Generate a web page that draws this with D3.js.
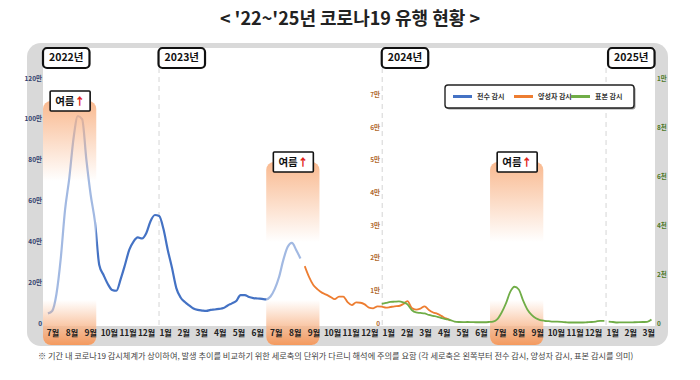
<!DOCTYPE html>
<html><head><meta charset="utf-8">
<script src="https://cdn.jsdelivr.net/npm/d3@7"></script>
<style>
body{margin:0;background:#fff;}
svg{display:block;font-family:"Noto Sans CJK KR","Noto Sans",sans-serif;}
</style>
</head><body>
<svg id="c" width="700" height="380"></svg>
<script>
// ---------- DATA ----------
const titleText = "< '22~'25년 코로나19 유행 현황 >";
const footnoteText = "※ 기간 내 코로나19 감시체계가 상이하여, 발생 추이를 비교하기 위한 세로축의 단위가 다르니 해석에 주의를 요함 (각 세로축은 왼쪽부터 전수 감시, 양성자 감시, 표본 감시를 의미)";
const monthLabels = ["7월","8월","9월","10월","11월","12월",
  "1월","2월","3월","4월","5월","6월","7월","8월","9월","10월","11월","12월",
  "1월","2월","3월","4월","5월","6월","7월","8월","9월","10월","11월","12월",
  "1월","2월","3월"];
const yearLabels = ["2022년","2023년","2024년","2025년"];
const yearStarts = ["2022-07-01","2023-01-01","2024-01-01","2025-01-01"];
const seriesNames = ["전수 감시","양성자 감시","표본 감시"];
const summerLabel = "여름";
const summerArrow = "↑";
const summerStarts = ["2022-07-01","2023-07-01","2024-07-01"];
const summerEnds = ["2022-10-01","2023-10-01","2024-10-01"];
const leftTicks = [0,200000,400000,600000,800000,1000000,1200000];
const midTicks = [0,10000,20000,30000,40000,50000,60000,70000];
const rightTicks = [0,2000,4000,6000,8000,10000];
const firstWeek = "2022-07-09";   // weekly points, week index 0
// 전수 감시 (weekly, week 0..59)
const blueValues = [47000,59000,142000,315000,553000,710000,906000,1014000,999000,798000,
  627000,495000,284000,235000,191000,162000,158000,215000,284000,358000,
  399000,419000,414000,441000,500000,529000,524000,460000,358000,269000,
  171000,125000,103000,86000,71000,64000,61000,59000,64000,66000,
  69000,73000,86000,96000,108000,137000,137000,127000,122000,120000,
  118000,116000,130000,167000,225000,309000,372000,392000,358000,316000];
// 양성자 감시 (weekly, from week 60)
const orangeStart = 60;
const orangeValues = [17400,14100,11600,10300,9300,8700,8000,7300,8100,8100,
  6400,5500,6300,6200,5700,4700,4500,5100,5000,4700,
  4900,5100,5200,5800,6700,4600,4100,4400,5100,4000,
  3200,2800,2100,1400,800];
// 표본 감시 (weekly, 2024 from week 78, 2025 from week 131)
const green2024Start = 78;
const green2024 = [780,820,860,870,880,840,760,530,430,410,
  390,330,290,250,200,160,120,60,40,35,
  40,35,30,30,30,40,60,160,430,800,
  1270,1480,1370,920,550,330,190,120,90,75,
  60,55,45,30,20,20,20,20,30,40,
  60,90,90];
const green2025Start = 131;
const green2025 = [53,40,20,25,25,25,30,35,40,45,140];

// ---------- LAYOUT ----------
const colors = {blue:"#4472c4", orange:"#ed7d31", green:"#70ad47"};
const tickColors = {left:"#33406e", mid:"#b0672c", right:"#4f7a2a"};
const plot = {left:43, right:655, top:48, bottom:326};
const panel = {x:27, y:43, w:641, h:303, r:14};
const parse = d3.timeParse("%Y-%m-%d");
const svg = d3.select("#c");
const font = '"Noto Sans CJK KR","Noto Sans",sans-serif';

const x = d3.scaleTime().domain([parse("2022-07-01"), parse("2025-04-01")]).range([43, 657.6]);
const yL = d3.scaleLinear().domain([0,1200000]).range([323,78]);
const yM = d3.scaleLinear().domain([0,75000]).range([323,78]);
const yR = d3.scaleLinear().domain([0,10000]).range([323,78]);
const weekDate = i => d3.timeDay.offset(parse(firstWeek), 7*i);

// title
svg.append("text").attr("x",350).attr("y",20).attr("text-anchor","middle")
  .attr("dominant-baseline","middle").attr("font-size",18).attr("font-weight",700)
  .attr("fill","#222").text(titleText);

// panel
svg.append("rect").attr("x",panel.x).attr("y",panel.y).attr("width",panel.w).attr("height",panel.h)
  .attr("rx",panel.r).attr("fill","#d9d9d9");
svg.append("rect").attr("x",plot.left).attr("y",plot.top).attr("width",plot.right-plot.left)
  .attr("height",plot.bottom-plot.top).attr("fill","#fff");

// dashed year lines
yearStarts.slice(1).forEach(d=>{
  const xx = x(parse(d))+3.5;
  svg.append("line").attr("x1",xx).attr("x2",xx).attr("y1",68).attr("y2",plot.bottom)
    .attr("stroke","#dcdcdc").attr("stroke-width",1.2).attr("stroke-dasharray","5,4");
});

const line = (yScale, start) => d3.line()
  .x((d,i)=>x(weekDate(start+i))).y(d=>yScale(d)).curve(d3.curveMonotoneX);

// blue line (under summer boxes)
svg.append("path").datum(blueValues).attr("d",line(yL,0)).attr("fill","none")
  .attr("stroke",colors.blue).attr("stroke-width",2.2).attr("stroke-linejoin","round");

// summer boxes
const defs = svg.append("defs");
const boxTops = [101,162,162];
const boxBottom = 345;
summerStarts.forEach((s,k)=>{
  const x0 = x(parse(s)), x1 = x(parse(summerEnds[k]))-3;
  const top = boxTops[k], h = boxBottom-top;
  const g = defs.append("linearGradient").attr("id","sg"+k)
    .attr("gradientUnits","userSpaceOnUse").attr("x1",0).attr("x2",0).attr("y1",top).attr("y2",boxBottom);
  g.append("stop").attr("offset",0).attr("stop-color","#f8ad7c").attr("stop-opacity",0.85);
  g.append("stop").attr("offset",Math.min(0.45,80/h)).attr("stop-color","#f8ad7c").attr("stop-opacity",0);
  g.append("stop").attr("offset",(300-top)/h).attr("stop-color","#f7a46e").attr("stop-opacity",0);
  g.append("stop").attr("offset",1).attr("stop-color","#f49a5f").attr("stop-opacity",1);
  svg.append("rect").attr("x",x0).attr("y",top).attr("width",x1-x0).attr("height",h).attr("rx",8)
    .attr("fill","#fff").attr("fill-opacity",0.5);
  svg.append("rect").attr("x",x0).attr("y",top).attr("width",x1-x0).attr("height",h).attr("rx",8)
    .attr("fill","url(#sg"+k+")");
});

// orange & green lines
svg.append("path").datum(orangeValues).attr("d",line(yM,orangeStart)).attr("fill","none")
  .attr("stroke",colors.orange).attr("stroke-width",1.8).attr("stroke-linejoin","round");
svg.append("path").datum(green2024).attr("d",line(yR,green2024Start)).attr("fill","none")
  .attr("stroke",colors.green).attr("stroke-width",1.8).attr("stroke-linejoin","round");
svg.append("path").datum(green2025).attr("d",line(yR,green2025Start)).attr("fill","none")
  .attr("stroke",colors.green).attr("stroke-width",1.8).attr("stroke-linejoin","round");

// summer labels
summerStarts.forEach((s,k)=>{
  const x0 = x(parse(s)), x1 = x(parse(summerEnds[k]))-3;
  const cx = (x0+x1)/2+0.5, cy = boxTops[k];
  svg.append("rect").attr("x",cx-20).attr("y",cy-10).attr("width",40).attr("height",20)
    .attr("fill","#fff").attr("stroke","#111").attr("stroke-width",1.6).attr("rx",1);
  const t = svg.append("text").attr("x",cx).attr("y",cy+0.5).attr("text-anchor","middle")
    .attr("dominant-baseline","middle").attr("font-size",10.5).attr("font-weight",700).attr("fill","#111");
  t.append("tspan").text(summerLabel);
  t.append("tspan").attr("fill","#e2231a").attr("font-weight",900).text(summerArrow);
});

// year label boxes
yearStarts.forEach((d,k)=>{
  const bx = k===0 ? x(parse(d)) : x(parse(d))+(k===3?5.5:3);
  svg.append("rect").attr("x",bx).attr("y",48).attr("width",46.5).attr("height",20).attr("rx",4)
    .attr("fill","#fff").attr("stroke","#111").attr("stroke-width",2.2);
  svg.append("text").attr("x",bx+23.25).attr("y",58.5).attr("text-anchor","middle")
    .attr("dominant-baseline","middle").attr("font-size",10.5).attr("font-weight",700)
    .attr("fill","#111").text(yearLabels[k]);
});

// x axis month labels
const monthStart = parse("2022-07-01");
const monthMids = monthLabels.map((m,i)=>{
  const a = d3.timeMonth.offset(monthStart,i), b = d3.timeMonth.offset(monthStart,i+1);
  return new Date((+a + +b)/2);
});
const xAxis = svg.append("g").attr("transform","translate(0,333)")
  .call(d3.axisBottom(x).tickValues(monthMids).tickFormat((d,i)=>monthLabels[i]).tickSize(0));
xAxis.select(".domain").remove();
xAxis.selectAll("text").attr("dy","0.35em").attr("y",0).attr("font-size",8.4).attr("font-weight",700)
  .attr("letter-spacing",-0.2).attr("fill","#222").attr("font-family",font);

// y axes
const fmtMan = v => v===0 ? "0" : (v/10000)+"만";
const fmtR = v => v===0 ? "0" : (v>=10000 ? (v/10000)+"만" : (v/1000)+"천");
function styleAxis(g,color){
  g.select(".domain").remove();
  g.selectAll("text").attr("font-size",6.5).attr("font-weight",600).attr("fill",color)
    .attr("font-family",font);
}
const aL = svg.append("g").attr("transform","translate(42,0)")
  .call(d3.axisLeft(yL).tickValues(leftTicks).tickFormat(fmtMan).tickSize(0).tickPadding(0));
styleAxis(aL,tickColors.left);
const aM = svg.append("g").attr("transform","translate(380,0)")
  .call(d3.axisLeft(yM).tickValues(midTicks).tickFormat(fmtMan).tickSize(0).tickPadding(0));
styleAxis(aM,tickColors.mid);
const aR = svg.append("g").attr("transform","translate(657,0)")
  .call(d3.axisRight(yR).tickValues(rightTicks).tickFormat(fmtR).tickSize(0).tickPadding(0));
styleAxis(aR,tickColors.right);

// legend
const lg = svg.append("g");
lg.append("rect").attr("x",446.5).attr("y",86.5).attr("width",189).attr("height",23).attr("rx",3)
  .attr("fill","#999");
lg.append("rect").attr("x",445).attr("y",85).attr("width",189).attr("height",23).attr("rx",3)
  .attr("fill","#fff").attr("stroke","#222").attr("stroke-width",1.4);
const legendX = [453,514,571];
const legendColors = [colors.blue,colors.orange,colors.green];
seriesNames.forEach((n,k)=>{
  lg.append("line").attr("x1",legendX[k]).attr("x2",legendX[k]+19).attr("y1",96.5).attr("y2",96.5)
    .attr("stroke",legendColors[k]).attr("stroke-width",3);
  lg.append("text").attr("x",legendX[k]+24).attr("y",96.8).attr("dominant-baseline","middle")
    .attr("font-size",7).attr("font-weight",700).attr("fill","#333").text(n);
});

// footnote
svg.append("text").attr("x",38).attr("y",357).attr("dominant-baseline","middle")
  .attr("font-size",8.2).attr("fill","#444").text(footnoteText);
</script>
</body></html>
